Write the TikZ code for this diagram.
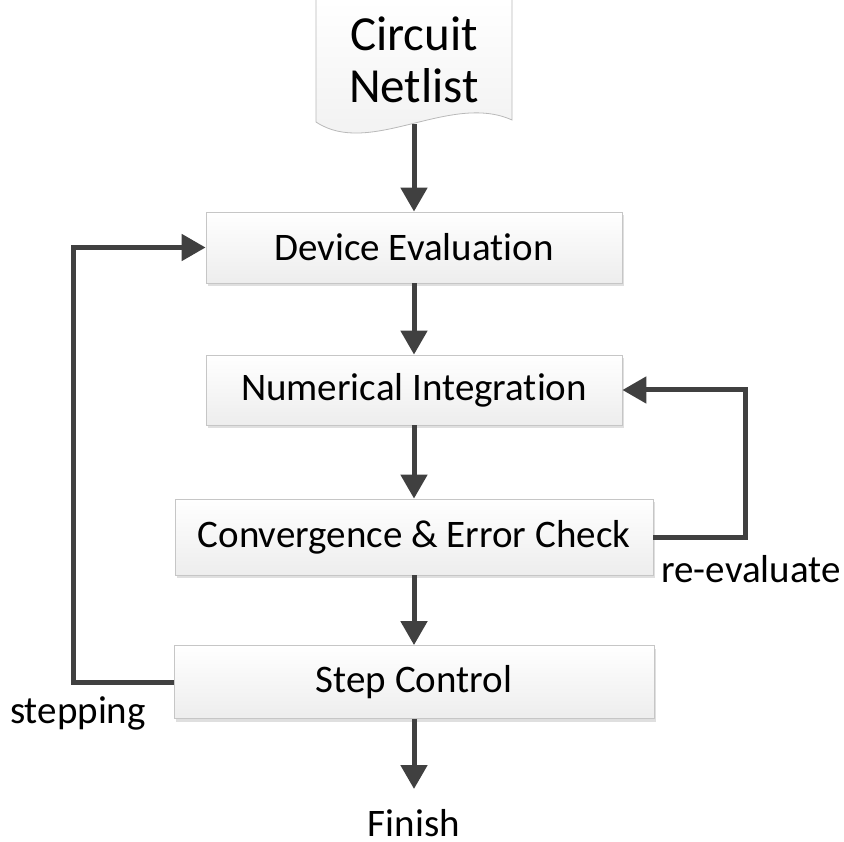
\documentclass[tikz,border=0pt]{standalone}
\usepackage{fontspec}
\setmainfont{Carlito}[Ligatures=NoCommon]
\usetikzlibrary{arrows.meta,shadows}
\begin{document}
\begin{tikzpicture}[x=1pt,y=1pt,
  box/.style={draw=gray!45, line width=0.8pt, top color=white, bottom color=gray!14,
    drop shadow={shadow xshift=2pt, shadow yshift=-3pt, opacity=0.25, fill=gray},
    inner sep=0pt, font=\fontsize{39}{44}\selectfont},
  lbl/.style={inner sep=0pt, font=\fontsize{39}{44}\selectfont},
  conn/.style={draw=black!75, line width=5pt, -{Triangle[length=24pt,width=26pt]}},
]
\useasboundingbox (0,0) rectangle (844,-842);
% document shape
\path[draw=gray!55, line width=0.8pt, top color=white, bottom color=gray!12]
  (316,0) -- (316,-122) .. controls (370,-158) and (450,-92) .. (512,-120) -- (512,0);
\node[lbl, align=center, font=\fontsize{49}{52}\selectfont] (net) at (414,-60) {Circuit\\Netlist};
\coordinate (netb) at (414,-124);

\node[box, minimum width=416, minimum height=71] (dev) at (414,-247.5) {Device Evaluation};
\node[box, minimum width=416, minimum height=70] (num) at (414,-390) {Numerical Integration};
\node[box, minimum width=478, minimum height=76] (conv) at (414,-537) {Convergence \& Error Check};
\node[box, minimum width=480, minimum height=73] (step) at (414,-682) {Step Control};
\node[lbl, anchor=base] (fin) at (414,-836) {Finish};
\coordinate (finb) at (414,-789);

\node[lbl] (reev) at (751,-569) {re-evaluate};
\node[lbl] (stp) at (78,-713) {stepping};

\coordinate (rc) at (745,-537);
\coordinate (lc) at (73,-682);

\draw[conn] (netb) -- (dev.north);
\draw[conn] (dev.south) -- (num.north);
\draw[conn] (num.south) -- (conv.north);
\draw[conn] (conv.south) -- (step.north);
\draw[conn] (step.south) -- (finb);
\draw[conn] (conv.east) -- (rc) |- (num.east);
\draw[conn] (step.west) -- (lc) |- (dev.west);
\end{tikzpicture}
\end{document}
